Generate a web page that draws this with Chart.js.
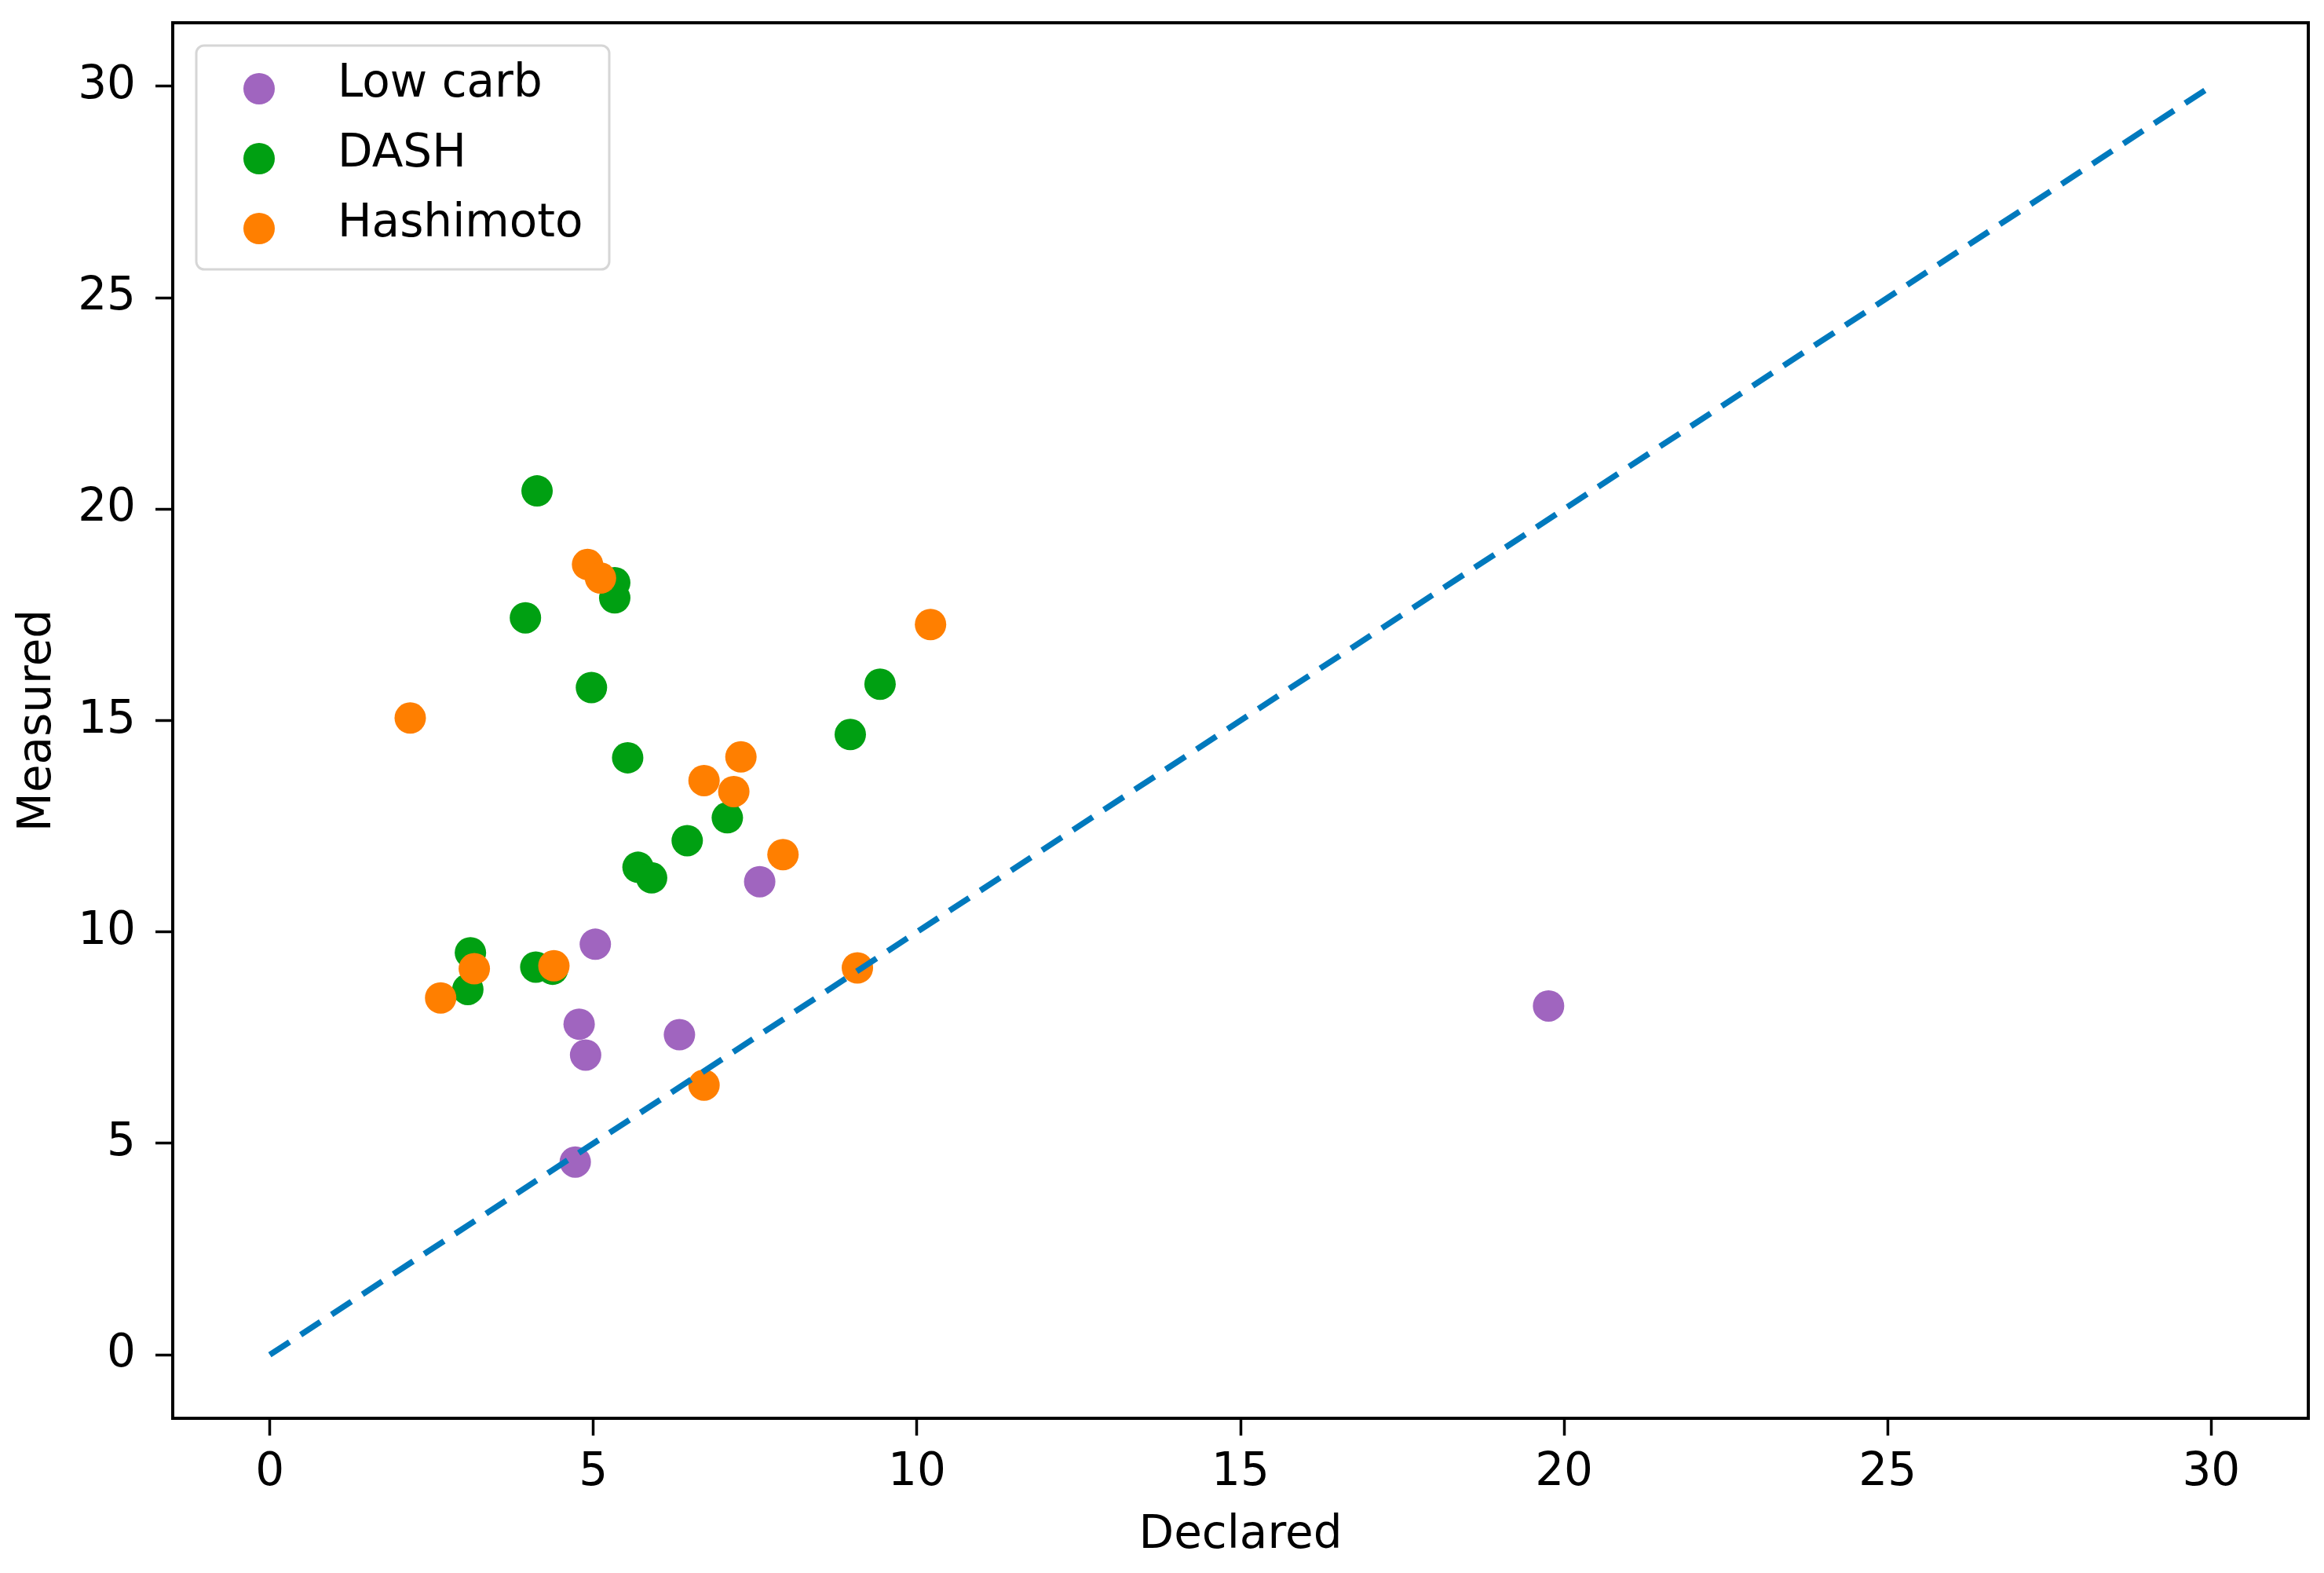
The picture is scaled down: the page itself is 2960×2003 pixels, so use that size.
<!DOCTYPE html>
<html>
<head>
<meta charset="utf-8">
<script src="https://cdn.jsdelivr.net/npm/chart.js@4.4.1/dist/chart.umd.min.js"></script>
<style>
html,body{margin:0;padding:0;background:#fff;}
canvas{display:block;}
</style>
</head>
<body>
<canvas id="scatterChart" width="2960" height="2003"></canvas>
<script>
// values
const lowCarbX = [4.72, 4.78, 4.88, 5.03, 6.33, 7.57, 19.76]
const lowCarbY = [4.56, 7.82, 7.09, 9.71, 7.57, 11.19, 8.25]

const dashX = [4.13, 3.95, 5.33, 5.33, 4.97, 5.53, 5.69, 5.90, 6.45, 7.07, 8.97, 9.43, 3.10, 3.06, 4.11, 4.37]
const dashY = [20.43, 17.43, 18.26, 17.90, 15.78, 14.12, 11.53, 11.28, 12.16, 12.70, 14.67, 15.86, 9.51, 8.64, 9.17, 9.12]

const hashiX = [2.17, 2.64, 3.16, 4.39, 4.91, 5.11, 6.71, 7.17, 7.28, 7.93, 9.08, 6.71, 10.21]
const hashiY = [15.06, 8.44, 9.13, 9.20, 18.69, 18.37, 13.58, 13.32, 14.14, 11.83, 9.15, 6.38, 17.27]

const refX = [0, 30]
const refY = [0, 30]

const xTicks = [0, 5, 10, 15, 20, 25, 30]
const yTicks = [0, 5, 10, 15, 20, 25, 30]

const seriesNames = ['Low carb', 'DASH', 'Hashimoto']
const seriesColors = ['#a065bf', '#00a012', '#ff7f00']

const pts = (xs, ys) => xs.map((x, i) => ({x: x, y: ys[i]}))

const font = 'DejaVu Sans'

// matplotlib style frame + legend box inside the plot
const framePlugin = {
  id: 'frame',
  afterDraw(chart) {
    const c = chart.ctx
    const a = chart.chartArea
    c.save()
    c.strokeStyle = '#000'
    c.lineWidth = 4
    c.strokeRect(a.left, a.top, a.right - a.left, a.bottom - a.top)

    const bx = a.left + 30, by = a.top + 29, bw = 526, bh = 285, r = 10
    c.beginPath()
    c.roundRect(bx, by, bw, bh, r)
    c.fillStyle = 'rgba(255,255,255,0.8)'
    c.fill()
    c.strokeStyle = '#d6d6d6'
    c.lineWidth = 3
    c.stroke()

    c.font = '58px "' + font + '"'
    c.textBaseline = 'alphabetic'
    c.textAlign = 'left'
    seriesNames.forEach((name, i) => {
      const rowY = by + 65 + i * 89
      c.beginPath()
      c.arc(bx + 80, rowY - 10, 20, 0, Math.PI * 2)
      c.fillStyle = seriesColors[i]
      c.fill()
      c.fillStyle = '#000'
      c.fillText(name, bx + 180, rowY)
    })
    c.restore()
  }
}

new Chart(document.getElementById('scatterChart'), {
  type: 'scatter',
  data: {
    datasets: [
      {
        label: seriesNames[0],
        data: pts(lowCarbX, lowCarbY),
        backgroundColor: seriesColors[0],
        borderWidth: 0,
        pointRadius: 20,
        order: 3
      },
      {
        label: seriesNames[1],
        data: pts(dashX, dashY),
        backgroundColor: seriesColors[1],
        borderWidth: 0,
        pointRadius: 20,
        order: 2
      },
      {
        label: seriesNames[2],
        data: pts(hashiX, hashiY),
        backgroundColor: seriesColors[2],
        borderWidth: 0,
        pointRadius: 20,
        order: 1
      },
      {
        type: 'line',
        label: 'y = x',
        data: pts(refX, refY),
        borderColor: '#0079bd',
        borderWidth: 7.5,
        borderDash: [30, 17],
        pointRadius: 0,
        fill: false,
        order: 0
      }
    ]
  },
  options: {
    responsive: false,
    devicePixelRatio: 1,
    animation: false,
    layout: {
      padding: {top: 29, right: 19, left: 0, bottom: 0}
    },
    plugins: {
      legend: {display: false},
      tooltip: {enabled: false}
    },
    scales: {
      x: {
        type: 'linear',
        min: -1.5,
        max: 31.5,
        afterBuildTicks: axis => { axis.ticks = xTicks.map(v => ({value: v})) },
        afterFit: axis => {
          axis.height = 197
          axis.paddingLeft = 0
          axis.paddingRight = 0
        },
        border: {display: false},
        grid: {
          drawOnChartArea: false,
          drawTicks: true,
          tickLength: 22,
          tickWidth: 3.5,
          tickColor: '#000'
        },
        ticks: {
          color: '#000',
          padding: 13,
          maxRotation: 0,
          font: {family: font, size: 58}
        },
        title: {
          display: true,
          text: 'Declared',
          color: '#000',
          padding: {top: 0, bottom: 12},
          font: {family: font, size: 58}
        }
      },
      y: {
        type: 'linear',
        min: -1.5,
        max: 31.5,
        afterBuildTicks: axis => { axis.ticks = yTicks.map(v => ({value: v})) },
        afterFit: axis => {
          axis.width = 220
          axis.paddingTop = 0
          axis.paddingBottom = 0
        },
        border: {display: false},
        grid: {
          drawOnChartArea: false,
          drawTicks: true,
          tickLength: 22,
          tickWidth: 3.5,
          tickColor: '#000'
        },
        ticks: {
          color: '#000',
          padding: 25,
          font: {family: font, size: 58}
        },
        title: {
          display: true,
          text: 'Measured',
          color: '#000',
          padding: {top: 14, bottom: 0},
          font: {family: font, size: 58}
        }
      }
    }
  },
  plugins: [framePlugin]
})
</script>
</body>
</html>
